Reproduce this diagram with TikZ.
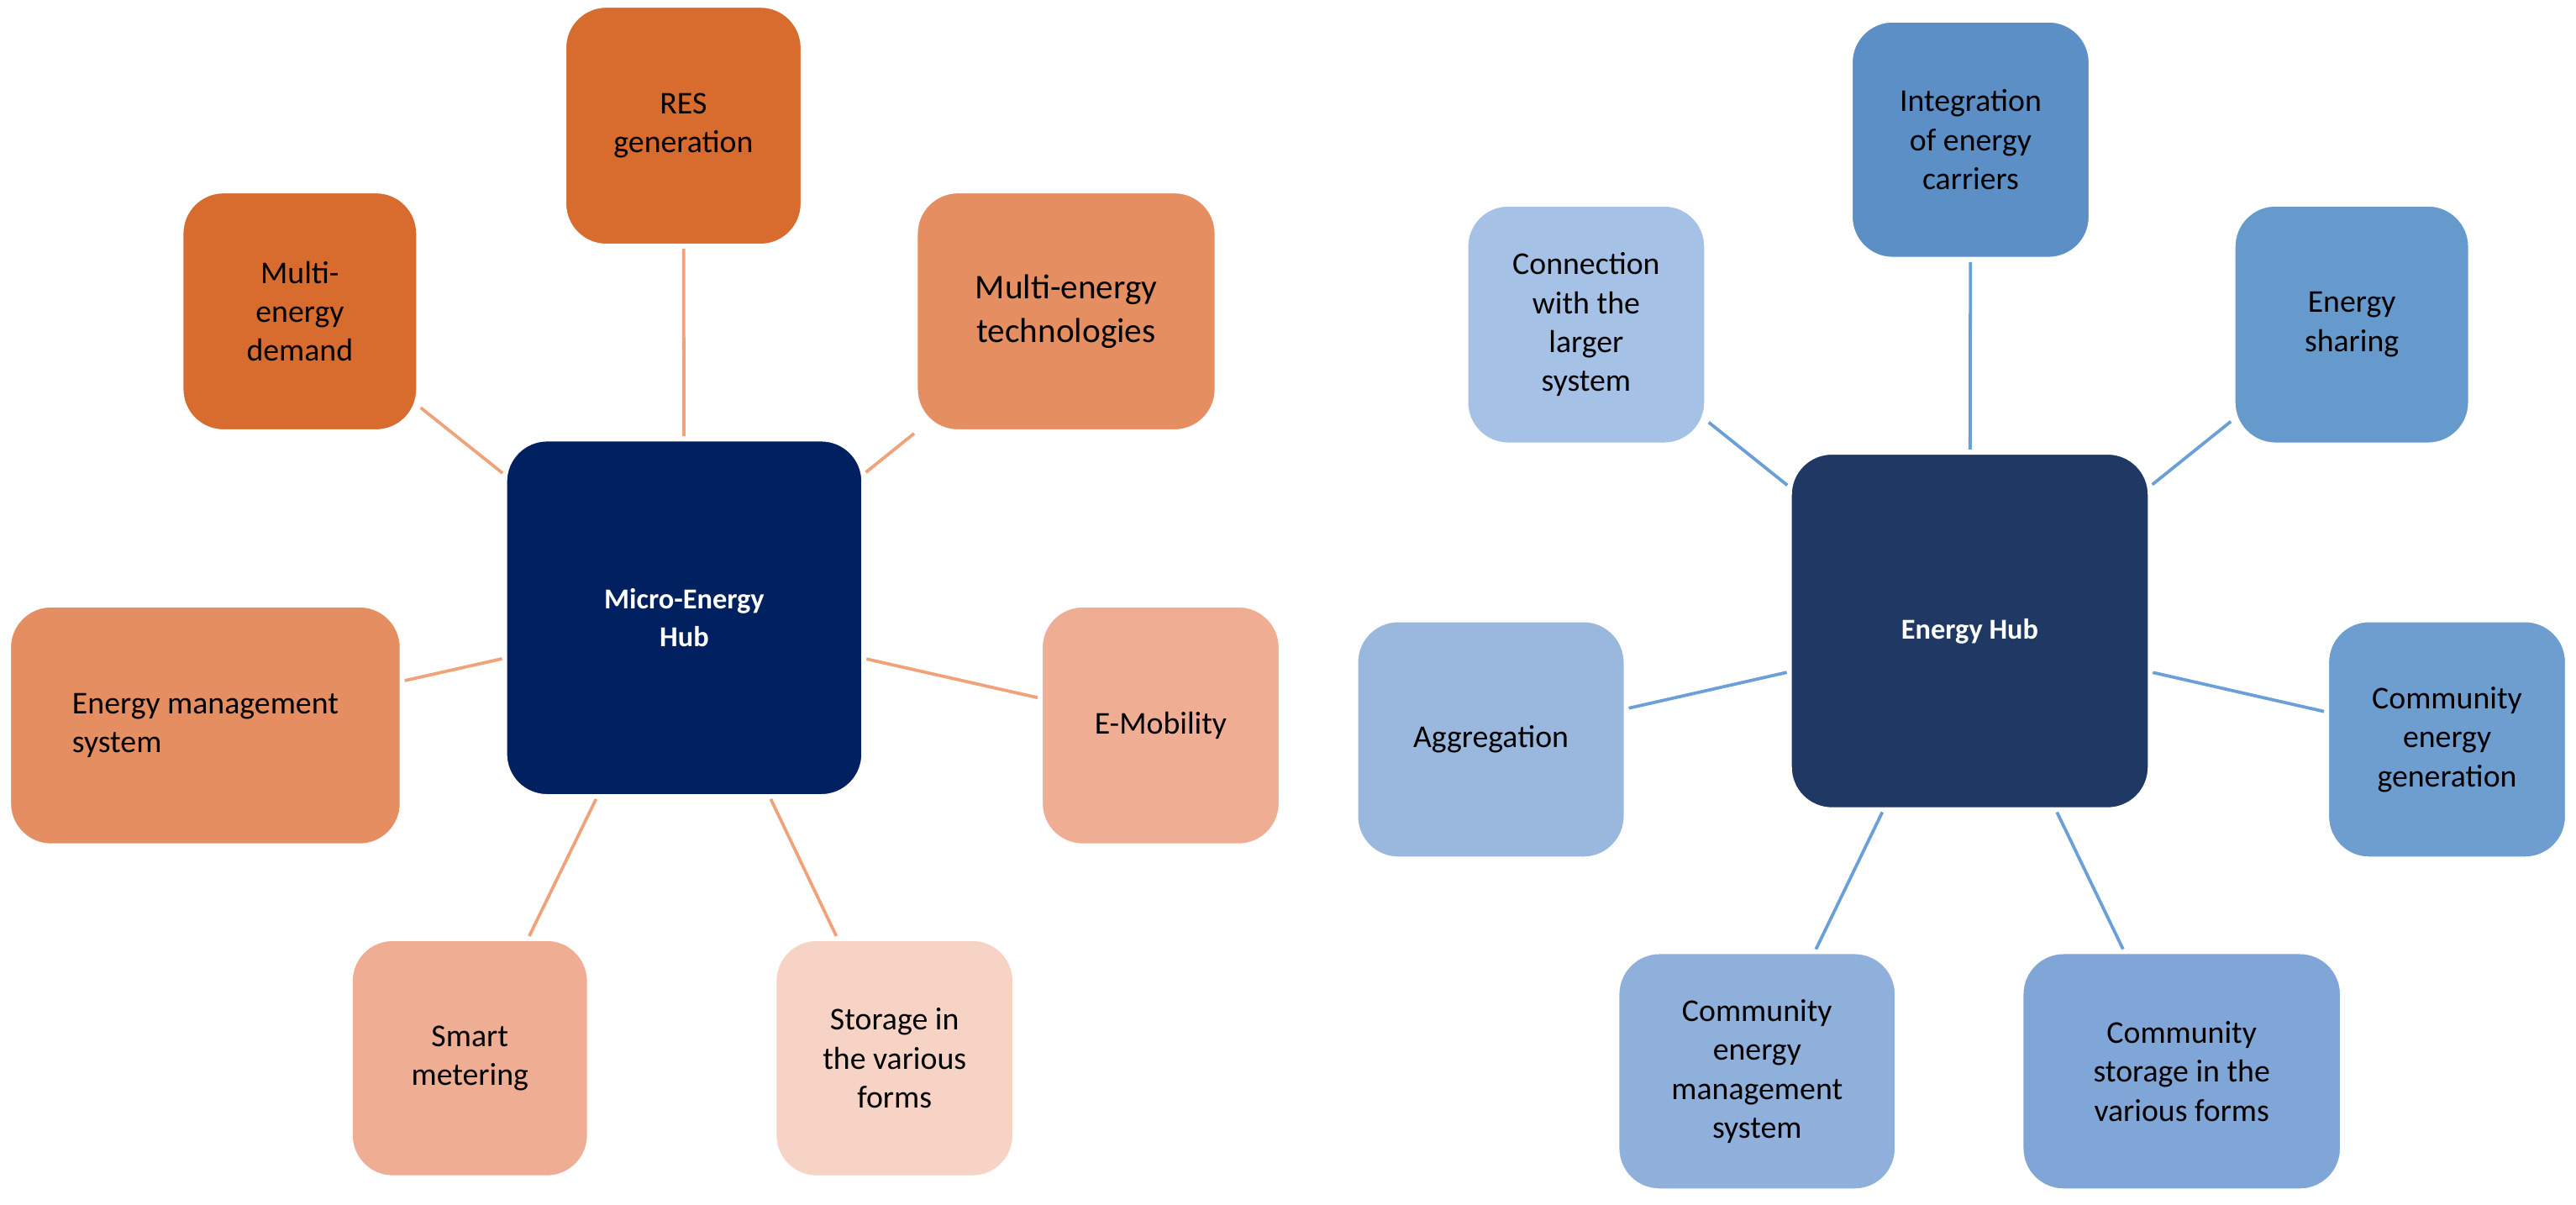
\documentclass[tikz,border=0pt]{standalone}
\usepackage{fontspec}
\setmainfont{Carlito}
\begin{document}
\begin{tikzpicture}[x=0.02cm,y=-0.02cm,
  box/.style={rounded corners=0.5cm,draw=white,line width=0.8pt,align=center,inner sep=2pt,
    font=\fontsize{11}{13.5}\selectfont,text=black},
  hub/.style={box,text=white,font=\bfseries\fontsize{10}{13}\selectfont},
  lo/.style={draw=orange!60!red!40!white,line width=1.1pt,color={rgb,255:red,240;green,162;blue,122}},
  lb/.style={line width=1.1pt,color={rgb,255:red,106;green,159;blue,216}},
  sz/.style 2 args={minimum width=#1*0.02cm,minimum height=#2*0.02cm}]
\useasboundingbox (0,0) rectangle (1568,733);
\definecolor{o1}{RGB}{216,108,46}
\definecolor{o2}{RGB}{229,142,98}
\definecolor{o3}{RGB}{239,174,147}
\definecolor{o4}{RGB}{247,211,197}
\definecolor{navy}{RGB}{0,32,96}
\definecolor{dnavy}{RGB}{31,56,100}
% left
\node[hub,fill=navy,sz={217}{216}] (mh) at (416.5,376) {Micro-Energy\\Hub};
\node[box,fill=o1,sz={144}{145}] (res) at (416,76.5) {RES\\generation};
\node[box,fill=o1,sz={143}{145}] (dem) at (182.5,189.5) {Multi-\\energy\\demand};
\node[box,fill=o2,sz={182}{145},font=\fontsize{12}{15}\selectfont] (tec) at (649,189.5) {Multi-energy\\technologies};
\node[box,fill=o2,sz={238}{145},align=left] (ems) at (125,441.5) {Energy management\\system};
\node[box,fill=o3,sz={145}{145}] (emo) at (706.5,441.5) {E-Mobility};
\node[box,fill=o3,sz={144}{144}] (sm) at (286,644) {Smart\\metering};
\node[box,fill=o4,sz={145}{144}] (sto) at (544.5,644) {Storage in\\the various\\forms};
\foreach \n in {res,dem,tec,ems,emo,sm,sto} \draw[lo,shorten <=1pt,shorten >=1pt] (mh) -- (\n);
% right
\node[hub,fill=dnavy,sz={218}{216}] (eh) at (1199,384) {Energy Hub};
\node[box,fill={rgb,255:red,91;green,143;blue,198},sz={145}{144}] (int) at (1199.5,85) {Integration\\of energy\\carriers};
\node[box,fill={rgb,255:red,165;green,194;blue,230},sz={145}{145}] (con) at (965.5,197.5) {Connection\\with the\\larger\\system};
\node[box,fill={rgb,255:red,102;green,153;blue,204},sz={143}{145}] (sha) at (1431.5,197.5) {Energy\\sharing};
\node[box,fill={rgb,255:red,154;green,184;blue,222},sz={163}{144}] (agg) at (907.5,450) {Aggregation};
\node[box,fill={rgb,255:red,110;green,157;blue,208},sz={145}{144}] (ceg) at (1489.5,450) {Community\\energy\\generation};
\node[box,fill={rgb,255:red,142;green,176;blue,219},sz={169}{144}] (cem) at (1069.5,652) {Community\\energy\\management\\system};
\node[box,fill={rgb,255:red,127;green,166;blue,214},sz={194}{144}] (cst) at (1328,652) {Community\\storage in the\\various forms};
\foreach \n in {int,con,sha,agg,ceg,cem,cst} \draw[lb,shorten <=1pt,shorten >=1pt] (eh) -- (\n);
\end{tikzpicture}
\end{document}
